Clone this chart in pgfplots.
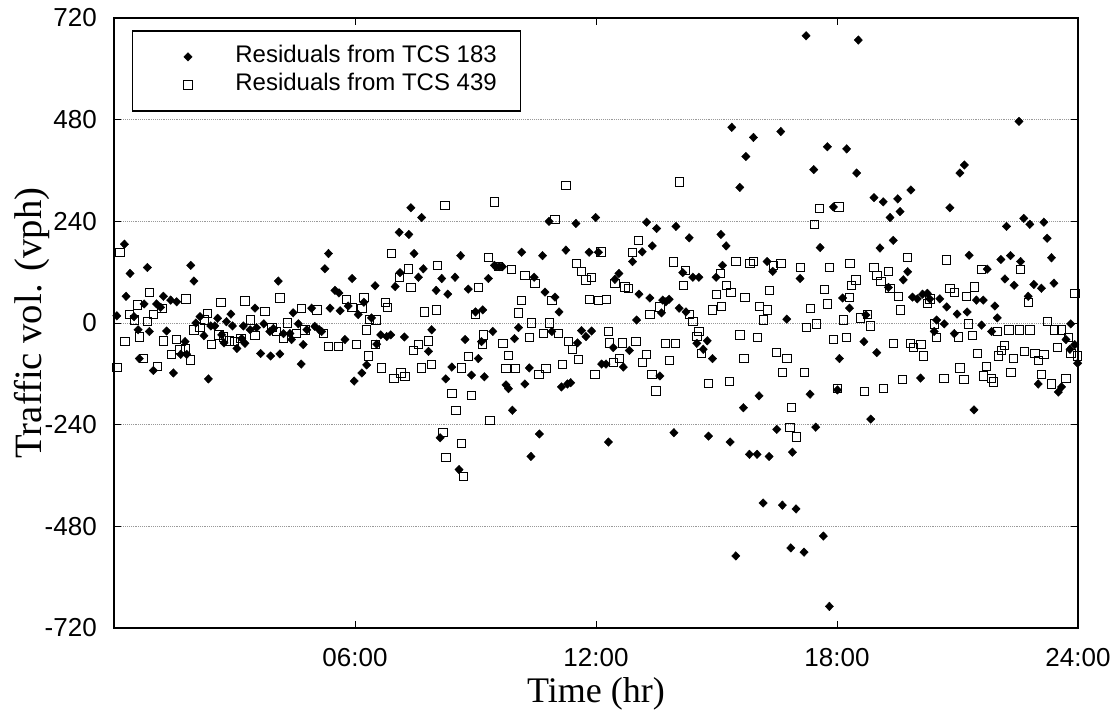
\documentclass[border=0pt]{standalone}
\usepackage{pgfplots}
\pgfplotsset{compat=1.18}
\usepackage{fontspec}
\setmainfont{Liberation Sans}
\newfontfamily\serif{Liberation Serif}

\pgfplotstableread{
h v
0.07 17
0.26 186
0.30 63
0.40 117
0.50 15
0.60 -16
0.63 -84
0.75 45
0.83 131
0.88 -20
0.98 -112
1.06 45
1.16 37
1.23 63
1.31 -19
1.41 54
1.48 -118
1.56 50
1.66 -74
1.77 -44
1.81 -74
1.91 136
1.99 99
2.04 0
2.14 15
2.24 -30
2.35 -132
2.41 -7
2.51 -7
2.58 11
2.68 -28
2.74 -47
2.80 3
2.91 21
2.95 -7
3.06 -60
3.18 -37
3.22 -7
3.26 -48
3.39 -16
3.51 35
3.55 -11
3.65 -72
3.73 -2
3.88 -20
3.90 -78
3.97 -13
4.09 99
4.13 -73
4.22 -25
4.38 -25
4.42 -39
4.46 24
4.59 -2
4.66 -97
4.71 -51
4.80 -16
4.92 35
5.00 -8
5.11 -16
5.17 -20
5.25 128
5.34 164
5.38 35
5.50 77
5.60 71
5.63 29
5.75 -39
5.83 40
5.93 105
5.98 -137
6.08 20
6.17 -118
6.22 49
6.29 -99
6.41 12
6.50 88
6.54 -50
6.64 -28
6.79 -32
6.89 -28
7.00 86
7.10 214
7.12 119
7.23 -33
7.34 209
7.39 272
7.47 164
7.58 108
7.66 249
7.70 128
7.83 -67
7.91 -16
8.02 77
8.12 -271
8.16 105
8.26 -132
8.31 68
8.41 -104
8.49 108
8.59 -346
8.63 159
8.74 -39
8.82 80
8.90 -123
9.00 26
9.07 -84
9.18 31
9.22 -127
9.32 105
9.15 -44
9.43 -20
9.47 136
9.51 133
9.59 133
9.67 133
9.76 -146
9.82 -155
9.92 -206
9.97 -37
10.07 -11
10.15 167
10.23 -144
10.34 -106
10.38 -315
10.46 108
10.59 -262
10.67 159
10.73 73
10.83 240
10.90 -20
10.98 61
11.08 26
11.14 -151
11.25 172
11.29 -144
11.37 -141
11.50 235
11.54 -47
11.64 -18
11.75 -32
11.83 167
11.89 -19
11.99 249
12.06 167
12.14 -97
12.25 -97
12.31 -281
12.43 -58
12.47 103
12.57 117
12.68 -104
12.83 -65
12.91 145
13.01 7
13.07 68
13.15 168
13.26 238
13.34 59
13.40 182
13.51 223
13.59 -125
13.63 24
13.66 54
13.74 50
13.82 56
13.94 -259
13.99 228
14.07 35
14.16 119
14.24 26
14.32 201
14.41 108
14.51 -48
14.56 108
14.67 -62
14.77 -42
14.80 -267
14.90 -84
14.99 108
15.11 209
15.15 136
15.24 182
15.34 -281
15.38 462
15.48 -550
15.58 320
15.67 -200
15.73 393
15.82 -310
15.92 438
16.01 -310
16.06 -172
16.16 -425
16.26 145
16.31 -315
16.40 122
16.50 -251
16.60 452
16.64 -430
16.75 9
16.85 -531
16.89 -305
16.98 -439
17.08 105
17.18 -541
17.23 678
17.33 -168
17.42 362
17.47 -246
17.58 178
17.66 -503
17.76 416
17.81 -669
17.91 274
18.01 -158
18.06 -84
18.14 59
18.24 411
18.31 35
18.49 354
18.53 668
18.67 -44
18.72 19
18.84 -227
18.92 296
18.99 -70
19.07 177
19.15 286
19.28 84
19.32 249
19.40 195
19.51 293
19.57 263
19.65 102
19.76 121
19.84 314
19.88 61
20.00 57
20.08 -130
20.13 68
20.25 70
20.31 57
20.42 -20
20.48 7
20.56 57
20.67 -2
20.73 38
20.81 272
20.92 -25
20.99 21
21.06 354
21.17 373
21.24 26
21.29 160
21.41 -205
21.47 54
21.60 -5
21.64 54
21.74 127
21.85 -20
21.93 40
21.99 12
22.08 150
22.18 104
22.22 228
22.32 159
22.41 89
22.53 476
22.57 145
22.65 247
22.76 63
22.80 233
22.90 91
23.01 -144
23.09 82
23.15 238
23.23 200
23.34 154
23.40 94
23.51 -163
23.59 -151
23.70 -39
23.80 -62
23.82 -2
23.92 -51
23.99 -95
}\tcsA

\pgfplotstableread{
h v
0.07 -104
0.15 166
0.27 -44
0.38 21
0.51 7
0.59 43
0.63 -33
0.73 -84
0.83 3
0.88 73
0.98 21
1.08 -102
1.19 35
1.23 -42
1.42 -74
1.56 -39
1.64 -62
1.77 -60
1.79 57
1.91 -87
1.99 -16
2.14 -11
2.25 7
2.33 23
2.43 -50
2.61 -28
2.66 49
2.72 -33
2.87 -42
3.00 -44
3.16 -37
3.26 52
3.39 7
3.51 -30
3.76 28
3.93 -11
4.05 -20
4.13 59
4.22 -37
4.32 0
4.55 -25
4.67 35
4.75 -16
5.05 31
5.21 -25
5.34 -56
5.59 -56
5.79 56
5.92 37
6.04 -50
6.17 35
6.29 -16
6.33 -78
6.22 61
6.36 9
6.50 -51
6.52 7
6.66 -106
6.75 49
6.81 37
6.90 164
6.97 -130
7.10 108
7.14 -118
7.24 -126
7.33 128
7.39 84
7.45 -65
7.58 -51
7.66 -106
7.72 26
7.83 -42
7.91 -98
8.03 31
8.06 136
8.19 -259
8.24 277
8.26 -318
8.41 -167
8.51 -206
8.64 -285
8.65 -106
8.69 -362
8.82 -79
8.89 -171
8.99 21
9.07 84
9.18 -50
9.32 154
9.36 -230
9.19 -28
9.47 286
9.57 133
9.68 -48
9.76 -107
9.82 -76
9.90 126
10.00 -107
10.07 24
10.15 54
10.23 112
10.34 -34
10.40 0
10.48 93
10.58 -121
10.69 -25
10.75 -107
10.84 0
10.90 54
10.98 245
11.06 -25
11.17 -97
11.25 324
11.31 -44
11.42 -62
11.52 140
11.56 -86
11.64 121
11.75 102
11.83 56
11.89 108
11.97 -121
12.06 54
12.12 168
12.25 56
12.31 -20
12.33 -47
12.43 -93
12.47 93
12.58 -84
12.66 -47
12.72 85
12.80 82
12.91 167
12.99 -44
13.05 195
13.15 -93
13.26 -74
13.34 21
13.39 -121
13.49 -160
13.59 38
13.72 -48
13.83 -88
13.93 144
13.97 -48
14.07 333
14.17 89
14.22 124
14.32 21
14.41 3
14.51 -32
14.56 -20
14.63 -72
14.79 -142
14.90 31
14.99 68
15.09 117
15.13 40
15.24 89
15.33 -138
15.36 73
15.48 145
15.58 -28
15.68 -84
15.71 61
15.83 141
15.92 145
16.02 -34
16.07 40
16.16 7
16.26 31
16.31 77
16.41 136
16.50 -70
16.60 141
16.64 -116
16.75 -84
16.83 -246
16.87 -199
16.99 -269
17.08 131
17.18 -116
17.23 -11
17.33 35
17.43 232
17.48 -2
17.56 270
17.68 80
17.76 45
17.81 131
17.91 -39
18.01 -155
18.05 274
18.16 7
18.24 -34
18.31 61
18.32 141
18.35 88
18.47 102
18.59 12
18.68 -162
18.75 21
18.84 -7
18.92 131
18.99 112
19.09 98
19.15 -155
19.28 121
19.32 82
19.40 -48
19.53 63
19.57 31
19.63 -134
19.76 154
19.82 -48
19.90 -58
20.09 -51
20.15 -78
20.25 47
20.31 57
20.42 -2
20.48 -34
20.66 -130
20.73 149
20.81 82
20.92 73
21.02 -33
21.06 -106
21.16 -134
21.23 63
21.27 -2
21.37 -30
21.42 85
21.50 -72
21.60 127
21.64 -125
21.72 -102
21.85 -130
21.89 -139
21.99 -20
22.01 -78
22.10 -65
22.16 -53
22.28 -16
22.33 -116
22.39 -84
22.55 -16
22.57 127
22.66 -67
22.76 49
22.80 -16
22.93 -72
23.01 -88
23.09 -121
23.15 -74
23.23 3
23.34 -144
23.41 -16
23.48 -58
23.59 -16
23.70 -130
23.76 -34
23.82 -72
23.92 69
23.99 -78
}\tcsB

\begin{document}
\begin{tikzpicture}
\begin{axis}[
  name=ax,
  scale only axis,
  width=723pt, height=457.5pt,
  xmin=0, xmax=24, ymin=-720, ymax=720,
  xtick={6,12,18,24}, xticklabels={06:00,12:00,18:00,24:00},
  ytick={-720,-480,-240,0,240,480,720},
  yticklabels={-720,-480,-240,0,240,480,720},
  tick align=inside,
  major tick length=5pt,
  tick style={black, line width=0.6pt},
  axis line style={black, line width=1pt},
  ymajorgrids,
  major grid style={gray!80, densely dotted, line width=0.6pt},
  ticklabel style={font=\fontsize{19.5}{21}\selectfont},
  yticklabel style={anchor=east, inner sep=0pt, xshift=-12.75pt},
  xticklabel style={anchor=north, inner sep=0pt, yshift=-15pt},
  xlabel={Time (hr)}, ylabel={Traffic vol. (vph)},
  xlabel style={font=\serif\fontsize{27}{29}\selectfont, at={(axis description cs:0.5,-0.108)}, anchor=center},
  ylabel style={font=\serif\fontsize{29}{31}\selectfont, at={(axis description cs:-0.085,0.5)}, anchor=center},
  legend cell align=left,
  legend style={at={(axis description cs:0.0187,0.980)}, anchor=north west,
    draw=black, line width=1pt, inner xsep=8pt, inner ysep=9pt,
    font=\fontsize{18}{20}\selectfont, row sep=0pt,
    nodes={text height=13pt, text depth=4pt, inner ysep=2pt, inner xsep=10pt}},
  legend image code/.code={\path (-33pt,0pt) (25pt,0pt); \draw[#1] plot coordinates {(0pt,0pt)};},
  clip=false,
]
\addplot[only marks, mark=diamond*, mark size=3.2pt,
  mark options={fill=black, draw=black, xscale=1.3, line width=0.3pt}] table[x=h,y=v] {\tcsA};
\addlegendentry{Residuals from TCS 183}
\addplot[only marks, mark=square, mark size=3.1pt,
  mark options={draw=black, fill=none, line width=0.6pt}] table[x=h,y=v] {\tcsB};
\addlegendentry{Residuals from TCS 439}
\end{axis}
\pgfresetboundingbox
\path[use as bounding box] ([xshift=-85.5pt,yshift=-62pt]ax.south west) rectangle ([xshift=30pt,yshift=13.5pt]ax.north east);
\end{tikzpicture}
\end{document}
